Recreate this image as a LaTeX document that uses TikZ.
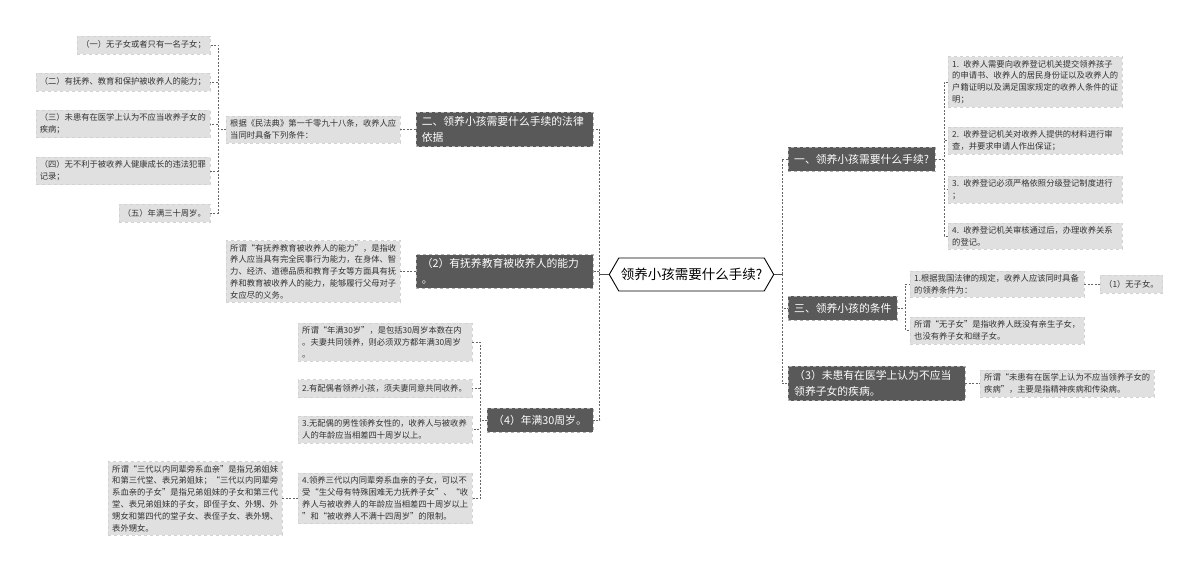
\documentclass[tikz,border=0pt]{standalone}
\usepackage{fontspec}
\setmainfont{Noto Sans CJK SC}
\usetikzlibrary{shapes.symbols}
\definecolor{topicgray}{HTML}{595959}
\definecolor{leafgray}{HTML}{E0E0E0}
\tikzset{
  topic/.style={draw=gray!60, dashed, fill=topicgray, text=white,
    font=\fontsize{10.8}{16}\selectfont, align=left,
    inner xsep=6pt, inner ysep=4pt, minimum height=24pt},
  leaf/.style={draw=gray!35, dashed, fill=leafgray, text=black!80,
    font=\fontsize{8.3}{11.8}\selectfont, align=left,
    inner xsep=4pt, inner ysep=3.5pt, minimum height=18pt},
  wide/.style={text width=166pt},
  link/.style={draw=black!60, dash pattern=on 2pt off 1.5pt, line width=0.6pt},
}
\begin{document}
\begin{tikzpicture}[x=1pt,y=-1pt]
\useasboundingbox (0,0) rectangle (1200,572);

% centre
\node[draw, line width=0.9pt, fill=white, shape=signal, signal to=west and east,
  signal pointer angle=120, font=\fontsize{13.5}{16}\selectfont,
  inner xsep=2pt, minimum height=33pt] (root) at (691.5,274.5) {领养小孩需要什么手续?};

% left topics
\node[topic, text width=165pt, anchor=east] (legal) at (593,129.5) {二、领养小孩需要什么手续的法律\\依据};
\node[topic, text width=165pt, anchor=east] (ability) at (593,271.5) {（2）有抚养教育被收养人的能力\\。};
\node[topic, anchor=east] (age) at (593,420) {（4）年满30周岁。};

% right topics
\node[topic, anchor=west] (proc) at (788,159) {一、领养小孩需要什么手续?};
\node[topic, anchor=west] (cond) at (788,308) {三、领养小孩的条件};
\node[topic, text width=165pt, anchor=west] (health) at (788,383.5) {（3）未患有在医学上认为不应当\\领养子女的疾病。};

% legal basis
\node[leaf, wide, anchor=west] (law) at (226,129.5) {根据《民法典》第一千零九十八条，收养人应\\当同时具备下列条件：};
\node[leaf, anchor=east] (c1) at (210,45) {（一）无子女或者只有一名子女；};
\node[leaf, anchor=east] (c2) at (210,82) {（二）有抚养、教育和保护被收养人的能力；};
\node[leaf, wide, anchor=east] (c3) at (210,124) {（三）未患有在医学上认为不应当收养子女的\\疾病；};
\node[leaf, wide, anchor=east] (c4) at (210,171) {（四）无不利于被收养人健康成长的违法犯罪\\记录；};
\node[leaf, anchor=east] (c5) at (210,213) {（五）年满三十周岁。};

% ability
\node[leaf, wide, anchor=west] (ablnote) at (226,271.5) {所谓“有抚养教育被收养人的能力”，是指收\\养人应当具有完全民事行为能力，在身体、智\\力、经济、道德品质和教育子女等方面具有抚\\养和教育被收养人的能力，能够履行父母对子\\女应尽的义务。};

% age
\node[leaf, wide, anchor=west] (a1) at (298,342) {所谓“年满30岁”，是包括30周岁本数在内\\。夫妻共同领养，则必须双方都年满30周岁\\。};
\node[leaf, wide, anchor=west] (a2) at (298,388.5) {2.有配偶者领养小孩，须夫妻同意共同收养。};
\node[leaf, wide, anchor=west] (a3) at (298,429.5) {3.无配偶的男性领养女性的，收养人与被收养\\人的年龄应当相差四十周岁以上。};
\node[leaf, wide, anchor=west] (a4) at (298,498.5) {4.领养三代以内同辈旁系血亲的子女，可以不\\受“生父母有特殊困难无力抚养子女”、“收\\养人与被收养人的年龄应当相差四十周岁以上\\”和“被收养人不满十四周岁”的限制。};
\node[leaf, wide, anchor=west] (kin) at (108,498.5) {所谓“三代以内同辈旁系血亲”是指兄弟姐妹\\和第三代堂、表兄弟姐妹；“三代以内同辈旁\\系血亲的子女”是指兄弟姐妹的子女和第三代\\堂、表兄弟姐妹的子女，即侄子女、外甥、外\\甥女和第四代的堂子女、表侄子女、表外甥、\\表外甥女。};

% procedure
\node[leaf, wide, anchor=west] (p1) at (948,82) {1. 收养人需要向收养登记机关提交领养孩子\\的申请书、收养人的居民身份证以及收养人的\\户籍证明以及满足国家规定的收养人条件的证\\明；};
\node[leaf, wide, anchor=west] (p2) at (948,140.5) {2. 收养登记机关对收养人提供的材料进行审\\查，并要求申请人作出保证；};
\node[leaf, wide, anchor=west] (p3) at (948,189.5) {3. 收养登记必须严格依照分级登记制度进行\\；};
\node[leaf, wide, anchor=west] (p4) at (948,236) {4. 收养登记机关审核通过后，办理收养关系\\的登记。};

% conditions
\node[leaf, wide, anchor=west] (k1) at (910,284) {1.根据我国法律的规定，收养人应该同时具备\\的领养条件为：};
\node[leaf, anchor=west] (nochild) at (1100,284) {（1）无子女。};
\node[leaf, wide, anchor=west] (k2) at (910,330.5) {所谓“无子女”是指收养人既没有亲生子女，\\也没有养子女和继子女。};

% health
\node[leaf, wide, anchor=west] (hnote) at (980,383.5) {所谓“未患有在医学上认为不应当领养子女的\\疾病”，主要是指精神疾病和传染病。};

% connectors
\coordinate (rootL) at ([xshift=-9pt]root.west);
\coordinate (rootR) at ([xshift=8pt]root.east);
\draw[black!70, line width=0.8pt] (root.west) -- (rootL) (root.east) -- (rootR);
\foreach \t in {legal,ability,age} \draw[link] (rootL) |- (\t.east);
\foreach \t in {proc,cond,health} \draw[link] (rootR) |- (\t.west);

\draw[link] (legal.west) -- (law.east);
\foreach \c in {c1,c2,c3,c4,c5} \draw[link] (law.west) -- ++(-8,0) |- (\c.east);
\draw[link] (ability.west) -- (ablnote.east);
\foreach \c in {a1,a2,a3,a4} \draw[link] (age.west) -- ++(-7,0) |- (\c.east);
\draw[link] (a4.west) -- (kin.east);

\foreach \c in {p1,p2,p3,p4} \draw[link] (proc.east) -- ++(9,0) |- (\c.west);
\foreach \c in {k1,k2} \draw[link] (cond.east) -- ++(8,0) |- (\c.west);
\draw[link] (k1.east) -- (nochild.west);
\draw[link] (health.east) -- (hnote.west);
\end{tikzpicture}
\end{document}
